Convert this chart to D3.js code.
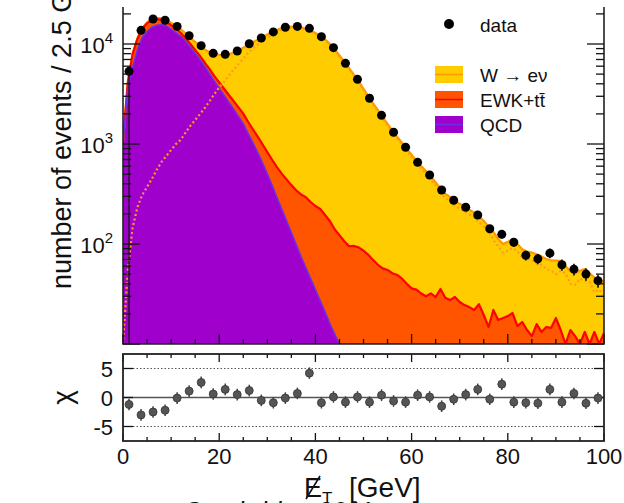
<!DOCTYPE html>
<html lang="en">
<head>
<meta charset="utf-8">
<style>
    html, body {
        margin: 0;
        padding: 0;
        background: #fff;
    }
    svg {
        display: block;
        font-family: "Liberation Sans", Arial, sans-serif;
    }
</style>
</head>
<body>
<script src="https://cdn.jsdelivr.net/npm/d3@7"></script>
<script>
// templates on a 1 GeV grid (events / 2.5 GeV)
var gridGeV = d3.range(0, 101);
var qcd = [1000, 3720, 5830, 8790, 11640, 13340, 14720, 15380, 15670, 15180,
    14100, 13000, 12000, 10700, 9300, 8100, 7000, 5950, 5050, 4250,
    3620, 3080, 2620, 2230, 1890, 1600, 1280, 1030, 824, 649,
    504, 386, 293, 223, 171, 130, 99, 75, 58, 45,
    35, 27, 21, 16, 12.6, 9.8, 7.6, 5.9, 4.6, 3.6,
    2.8, 0, 0, 0, 0, 0, 0, 0, 0, 0,
    0, 0, 0, 0, 0, 0, 0, 0, 0, 0,
    0, 0, 0, 0, 0, 0, 0, 0, 0, 0,
    0, 0, 0, 0, 0, 0, 0, 0, 0, 0,
    0, 0, 0, 0, 0, 0, 0, 0, 0, 0, 0];
var ewk = [60, 395, 2100, 2450, 2550, 2750, 2700, 2350, 1750, 1450,
    1350, 1200, 950, 750, 700, 640, 600, 570, 550, 530,
    510, 490, 470, 450, 430, 410, 390, 375, 360, 345,
    325, 310, 295, 283, 272, 258, 245, 238, 236, 218,
    205, 197, 174, 154, 128, 113, 99, 89, 91, 89,
    83, 78, 69, 62, 57, 55, 51, 49, 45, 40,
    36, 35, 32, 30, 32, 29.5, 35.5, 29, 27.5, 29.5,
    26.3, 24.5, 23.4, 21.9, 25, 19.5, 14.8, 21.9, 17.4, 18.2,
    19, 20.4, 15.1, 16.6, 13.8, 12, 15.8, 13.2, 14.8, 14.5,
    18.2, 13.8, 9, 13.8, 12, 9, 13.2, 9, 13.2, 9, 12.9];
var wenu = [2, 55, 145, 234, 309, 372, 447, 550, 661, 759,
    871, 1000, 1100, 1300, 1520, 1740, 1990, 2290, 2680, 3160,
    3670, 4170, 4820, 5520, 6290, 7150, 8120, 9015, 9856, 10706,
    11591, 12454, 13212, 13884, 14317, 14542, 14616, 14407, 13926, 13417,
    12640, 11886, 10945, 9830, 8729, 7547, 6533, 5645, 4854, 4147,
    3474, 2912, 2481, 2118, 1803, 1535, 1309, 1131, 985, 855,
    744, 644, 569, 505, 441, 383, 324, 290, 267, 241,
    226, 213, 197, 184, 165, 150, 135, 110, 95, 82,
    86, 91, 85, 72, 70, 70, 63, 62, 56, 54,
    50, 54, 51, 40, 39, 45, 43, 42, 33, 35, 29];

// data in 2.5 GeV bins
var binCentres = d3.range(40).map(function (i) { return 1.25 + 2.5 * i; });
var dataCounts = [5330, 13700, 17800, 17260, 15000, 12100, 9620, 8070, 7880, 8510,
    10070, 11480, 13200, 14700, 15000, 14350, 11840, 9190, 6410, 4430,
    2865, 1936, 1309, 927, 656, 490, 347, 274, 233, 195,
    142, 125, 104, 77, 71, 81, 62, 56, 50, 43];
var chi = [-1.2, -3.0, -2.5, -2.2, -0.1, 1.1, 2.6, 0.6, 1.4, 0.5,
    1.2, -0.5, -0.9, -0.1, 0.7, 4.2, -0.9, 0.1, -0.8, 0.1,
    -0.8, 0.4, -0.6, -0.8, 0.4, 0.1, -1.5, -0.3, 0.5, 1.4,
    -0.3, 2.3, -0.8, -0.9, -1.0, 1.4, -0.8, 0.7, -1.0, -0.1];

var xTicks = [0, 20, 40, 60, 80, 100];
var yDecades = [2, 3, 4];
var chiTicks = [-5, 0, 5];
var legendLabels = ['W \u2192 e\u03bd', 'EWK+tt\u0304', 'QCD'];

(function () {
    var W = 624, H = 503;
    var x0 = 123, x1 = 604;
    var mainTop = 7, mainBottom = 344;
    var chiTop = 354, chiBottom = 441;

    var fills = ['#a000cc', '#ff5500', '#ffcc00'];
    var edges = ['#6a2ee8', '#ff0000', '#ff9900'];

    var svg = d3.select('body').append('svg')
        .attr('width', W)
        .attr('height', H);

    var x = d3.scaleLinear().domain([0, 100]).range([x0, x1]);
    var y = d3.scaleLog().domain([10, 23442]).range([mainBottom, mainTop]).clamp(true);
    var yc = d3.scaleLinear().domain([-7.5, 7.5]).range([chiBottom, chiTop]);

    svg.append('clipPath').attr('id', 'mainclip')
        .append('rect')
        .attr('x', x0).attr('y', mainTop)
        .attr('width', x1 - x0).attr('height', mainBottom - mainTop);

    var rows = gridGeV.map(function (g, i) {
        return { met: g, qcd: qcd[i], ewk: ewk[i], wenu: wenu[i] };
    });
    var layers = d3.stack().keys(['qcd', 'ewk', 'wenu'])(rows);

    var safe = function (v) { return y(Math.max(v, 1)); };

    var area = d3.area()
        .x(function (d) { return x(d.data.met); })
        .y0(function (d) { return safe(d[0]); })
        .y1(function (d) { return safe(d[1]); });
    var topLine = d3.line()
        .x(function (d) { return x(d.data.met); })
        .y(function (d) { return safe(d[1]); });

    var plot = svg.append('g').attr('clip-path', 'url(#mainclip)');

    plot.selectAll('path.fill')
        .data(layers)
        .enter()
        .append('path')
        .attr('class', 'fill')
        .attr('d', area)
        .style('fill', function (d, i) { return fills[i]; });

    // stack edges: W on the outside, then EWK, then QCD
    [2, 1, 0].forEach(function (i) {
        plot.append('path')
            .attr('d', topLine(layers[i]))
            .style('fill', 'none')
            .style('stroke', edges[i])
            .style('stroke-width', i === 0 ? 1.6 : 2.2)
            .style('stroke-linejoin', 'round');
    });

    // W -> e nu alone, dotted
    plot.append('path')
        .attr('d', d3.line()
            .x(function (d, i) { return x(gridGeV[i]); })
            .y(function (d) { return safe(d); })(wenu))
        .style('fill', 'none')
        .style('stroke', '#ff9a1a')
        .style('stroke-width', 2.2)
        .style('stroke-dasharray', '2,2.6');

    plot.append('line')
        .attr('x1', x(binCentres[0])).attr('x2', x(binCentres[0]))
        .attr('y1', y(dataCounts[0])).attr('y2', mainBottom)
        .style('stroke', '#111')
        .style('stroke-width', 1.2);

    // data points with sqrt(N) errors
    var pts = svg.append('g');
    pts.selectAll('line')
        .data(dataCounts)
        .enter()
        .append('line')
        .attr('x1', function (d, i) { return x(binCentres[i]); })
        .attr('x2', function (d, i) { return x(binCentres[i]); })
        .attr('y1', function (d) { return y(d + Math.sqrt(d)); })
        .attr('y2', function (d) { return y(d - Math.sqrt(d)); })
        .style('stroke', '#000')
        .style('stroke-width', 1.5);
    pts.selectAll('circle')
        .data(dataCounts)
        .enter()
        .append('circle')
        .attr('cx', function (d, i) { return x(binCentres[i]); })
        .attr('cy', function (d) { return y(d); })
        .attr('r', 4.5)
        .style('fill', '#000');

    // main frame (no top edge visible)
    svg.append('path')
        .attr('d', 'M' + x0 + ',' + mainTop + 'V' + mainBottom + 'H' + x1 + 'V' + mainTop)
        .style('fill', 'none')
        .style('stroke', '#222')
        .style('stroke-width', 1.6);

    // log ticks, left and right
    var logTicks = [];
    [1, 2, 3, 4].forEach(function (e) {
        for (var m = 1; m < 10; m++) {
            var v = m * Math.pow(10, e);
            if (v >= 10 && v <= 23442) logTicks.push({ v: v, major: m === 1 });
        }
    });
    var ticks = svg.append('g').style('stroke', '#111').style('stroke-width', 1.3);
    logTicks.forEach(function (t) {
        var len = t.major ? 17 : 8;
        ticks.append('line').attr('x1', x0).attr('x2', x0 + len)
            .attr('y1', y(t.v)).attr('y2', y(t.v));
        ticks.append('line').attr('x1', x1).attr('x2', x1 - len)
            .attr('y1', y(t.v)).attr('y2', y(t.v));
    });
    d3.range(0, 101, 5).forEach(function (v) {
        var major = v % 20 === 0;
        var len = major ? 10 : 5;
        ticks.append('line').attr('x1', x(v)).attr('x2', x(v))
            .attr('y1', mainBottom).attr('y2', mainBottom - len);
        ticks.append('line').attr('x1', x(v)).attr('x2', x(v))
            .attr('y1', chiBottom).attr('y2', chiBottom - (major ? 8 : 4));
        ticks.append('line').attr('x1', x(v)).attr('x2', x(v))
            .attr('y1', chiTop).attr('y2', chiTop + (major ? 8 : 4));
    });

    var ylab = svg.append('g')
        .style('font-size', '22px')
        .style('fill', '#111');
    yDecades.forEach(function (e) {
        var t = ylab.append('text')
            .attr('x', 113)
            .attr('y', y(Math.pow(10, e)) + 9)
            .attr('text-anchor', 'end');
        t.append('tspan').text('10');
        t.append('tspan').attr('dy', -10).style('font-size', '15px').text(e);
    });

    svg.append('text')
        .attr('transform', 'translate(71,289) rotate(-90)')
        .style('font-size', '27px')
        .style('fill', '#111')
        .text('number of events / 2.5 GeV');

    // legend
    var leg = svg.append('g').style('font-size', '19px').style('fill', '#111');
    leg.append('circle').attr('cx', 449).attr('cy', 24).attr('r', 5).style('fill', '#000');
    leg.append('text').attr('x', 480).attr('y', 32).text('data');
    [2, 1, 0].forEach(function (k, j) {
        var yy = 66 + 25 * j;
        leg.append('rect').attr('x', 435).attr('y', yy).attr('width', 28).attr('height', 17)
            .style('fill', fills[k]);
        leg.append('line').attr('x1', 435).attr('x2', 463)
            .attr('y1', yy + 8.5).attr('y2', yy + 8.5)
            .style('stroke', edges[k]).style('stroke-width', 1.6);
        leg.append('text').attr('x', 480).attr('y', yy + 16).text(legendLabels[j]);
    });

    // chi panel
    var cp = svg.append('g');
    [-5, 5].forEach(function (v) {
        cp.append('line').attr('x1', x0 + 10).attr('x2', x1 - 10)
            .attr('y1', yc(v)).attr('y2', yc(v))
            .style('stroke', '#555').style('stroke-width', 1)
            .style('stroke-dasharray', '1.5,2');
    });
    cp.append('line').attr('x1', x0).attr('x2', x1)
        .attr('y1', yc(0)).attr('y2', yc(0))
        .style('stroke', '#555').style('stroke-width', 1.3);
    chiTicks.forEach(function (v) {
        cp.append('line').attr('x1', x0).attr('x2', x0 + 10)
            .attr('y1', yc(v)).attr('y2', yc(v))
            .style('stroke', '#111').style('stroke-width', 1.3);
        cp.append('line').attr('x1', x1).attr('x2', x1 - 10)
            .attr('y1', yc(v)).attr('y2', yc(v))
            .style('stroke', '#111').style('stroke-width', 1.3);
        cp.append('text').attr('x', 113).attr('y', yc(v) + 8)
            .attr('text-anchor', 'end')
            .style('font-size', '22px').style('fill', '#111')
            .text(v);
    });
    cp.selectAll('line.err')
        .data(chi)
        .enter()
        .append('line')
        .attr('class', 'err')
        .attr('x1', function (d, i) { return x(binCentres[i]); })
        .attr('x2', function (d, i) { return x(binCentres[i]); })
        .attr('y1', function (d) { return yc(d + 1); })
        .attr('y2', function (d) { return yc(d - 1); })
        .style('stroke', '#444')
        .style('stroke-width', 1.5);
    cp.selectAll('circle')
        .data(chi)
        .enter()
        .append('circle')
        .attr('cx', function (d, i) { return x(binCentres[i]); })
        .attr('cy', function (d) { return yc(d); })
        .attr('r', 4)
        .style('fill', '#555')
        .style('stroke', '#333')
        .style('stroke-width', 0.8);
    cp.append('rect')
        .attr('x', x0).attr('y', chiTop)
        .attr('width', x1 - x0).attr('height', chiBottom - chiTop)
        .style('fill', 'none')
        .style('stroke', '#222')
        .style('stroke-width', 1.8);

    svg.append('text')
        .attr('transform', 'translate(72,' + yc(0) + ') rotate(-90)')
        .attr('text-anchor', 'middle')
        .style('font-size', '28px')
        .style('fill', '#111')
        .text('\u03c7');

    svg.append('g').selectAll('text')
        .data(xTicks)
        .enter()
        .append('text')
        .attr('x', function (d) { return x(d); })
        .attr('y', 464)
        .attr('text-anchor', 'middle')
        .style('font-size', '22px')
        .style('fill', '#111')
        .text(function (d) { return d; });

    // missing-E_T title: E with a slash drawn through it, subscript T
    var xt = svg.append('g').style('fill', '#111');
    xt.append('text').attr('x', 304).attr('y', 497)
        .style('font-size', '27px').text('E');
    xt.append('line')
        .attr('x1', 306).attr('y1', 499).attr('x2', 320).attr('y2', 476)
        .style('stroke', '#111').style('stroke-width', 1.6);
    xt.append('text').attr('x', 322).attr('y', 504)
        .style('font-size', '17px').text('T');
    xt.append('text').attr('x', 349).attr('y', 497)
        .style('font-size', '28px').text('[GeV]');

    svg.append('text')
        .attr('x', 183)
        .attr('y', 520)
        .style('font-size', '26px')
        .style('font-style', 'italic')
        .style('fill', '#111')
        .text('Cambridge 2011');
})();
</script>
</body>
</html>
